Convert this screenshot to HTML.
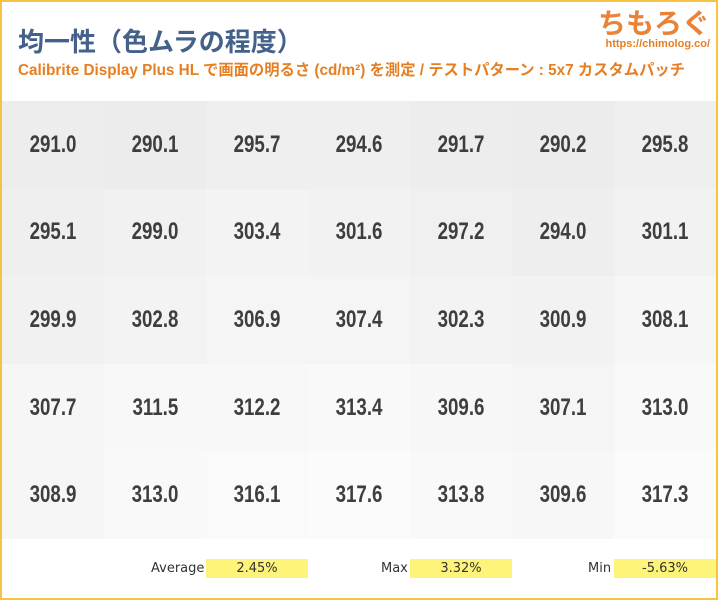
<!DOCTYPE html>
<html><head><meta charset="utf-8"><style>
html,body{margin:0;padding:0;background:#fff}
#f{position:relative;width:714px;height:596px;border:2px solid #f5c242;background:#fff;overflow:hidden;font-family:"Liberation Sans","Noto Sans CJK JP",sans-serif}
.t{position:absolute;left:16px;top:20px;font-size:26px;font-weight:bold;color:#44618a;font-family:"Noto Sans CJK JP",sans-serif;letter-spacing:0px}
.s{position:absolute;left:16px;top:56px;font-size:15.3px;font-weight:bold;color:#e67e22;font-family:"Liberation Sans Narrow","Liberation Sans","Noto Sans CJK JP",sans-serif;white-space:nowrap}
.logo{position:absolute;right:6px;top:0px;font-size:28px;font-weight:bold;color:#e9833a;font-family:"Noto Sans CJK JP",sans-serif}
.url{position:absolute;right:6px;top:36px;font-size:11px;font-weight:bold;color:#e67e22;font-family:"Liberation Sans Narrow","Liberation Sans",sans-serif}
table{position:absolute;left:0;top:99px;border-collapse:collapse}
td{width:102px;height:87.6px;padding:0;text-align:center;font-family:"Liberation Sans Narrow","Liberation Sans",sans-serif;font-weight:bold;font-size:24px;color:#3e3e3e}
td span{display:inline-block;transform:scaleX(0.78)}
.lab{position:absolute;top:559px;font-size:13px;color:#333;font-family:"DejaVu Sans",sans-serif}
.box{position:absolute;top:557px;width:102px;height:19px;background:#fff47a;font-size:13px;text-align:center;line-height:19px;color:#333;font-family:"DejaVu Sans",sans-serif}
</style></head><body><div id="f">
<div class="t">均一性（色ムラの程度）</div>
<div class="s">Calibrite Display Plus HL で画面の明るさ (cd/m²) を測定 / テストパターン : 5x7 カスタムパッチ</div>
<div class="logo">ちもろぐ</div>
<div class="url">https://chimolog.co/</div>
<table id="g"></table>
<div class="lab" style="left:149px">Average</div><div class="box" style="left:204px">2.45%</div>
<div class="lab" style="left:379px">Max</div><div class="box" style="left:408px">3.32%</div>
<div class="lab" style="left:586px">Min</div><div class="box" style="left:612px">-5.63%</div>
</div>
<script>
var d=[[291.0,290.1,295.7,294.6,291.7,290.2,295.8],[295.1,299.0,303.4,301.6,297.2,294.0,301.1],[299.9,302.8,306.9,307.4,302.3,300.9,308.1],[307.7,311.5,312.2,313.4,309.6,307.1,313.0],[308.9,313.0,316.1,317.6,313.8,309.6,317.3]];
var h='';d.forEach(function(r){h+='<tr>';r.forEach(function(v){var c=Math.round(236+(v-290)/27.6*15);h+='<td style="background:rgb('+c+','+c+','+c+')"><span>'+v.toFixed(1)+'</span></td>'});h+='</tr>'});
document.getElementById('g').innerHTML=h;
</script>
</body></html>
